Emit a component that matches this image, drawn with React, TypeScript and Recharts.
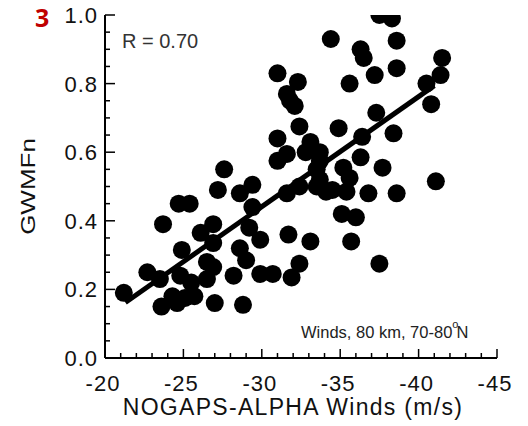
import React from "react";
import { ScatterChart, Scatter, XAxis, YAxis, ReferenceLine } from "recharts";

// NOGAPS-ALPHA winds (m/s)
const windsX: number[] = [
  -21.2, -22.7, -23.5, -23.6, -23.7, -24.7, -25.4, -24.9, -24.8, -24.3,
  -24.6, -25.1, -25.5, -25.7, -26.1, -26.9, -26.9, -26.5, -26.9, -26.5,
  -27.0, -28.2, -28.8, -28.6, -29.0, -29.2, -29.4, -29.9, -29.9, -27.6,
  -27.2, -28.6, -29.4, -34.4, -36.3, -36.5, -31.0, -32.3, -35.6, -31.6,
  -31.8, -32.1, -32.4, -34.9, -31.0, -33.1, -31.6, -31.0, -32.8, -33.7,
  -33.7, -36.4, -36.3, -35.2, -35.6, -37.5, -38.3, -38.6, -41.5, -38.6,
  -37.2, -40.5, -41.4, -40.8, -37.3, -38.4, -37.7, -41.1, -33.5, -33.5,
  -34.1, -34.5, -35.4, -36.8, -38.6, -32.4, -31.6, -35.1, -36.0, -31.7,
  -33.1, -35.7, -37.5, -32.4, -31.9, -30.7, -33.7,
];
// GWMFn
const gwmfY: number[] = [
  0.19, 0.25, 0.23, 0.15, 0.39, 0.45, 0.45, 0.315, 0.24, 0.18,
  0.16, 0.175, 0.22, 0.18, 0.365, 0.39, 0.335, 0.28, 0.265, 0.23,
  0.16, 0.24, 0.155, 0.32, 0.285, 0.38, 0.44, 0.345, 0.245, 0.55,
  0.49, 0.48, 0.505, 0.93, 0.9, 0.875, 0.83, 0.805, 0.8, 0.77,
  0.75, 0.735, 0.675, 0.67, 0.64, 0.63, 0.595, 0.575, 0.6, 0.6,
  0.575, 0.645, 0.585, 0.555, 0.525, 1.0, 0.99, 0.925, 0.875, 0.845,
  0.825, 0.8, 0.825, 0.74, 0.715, 0.655, 0.555, 0.515, 0.55, 0.5,
  0.485, 0.49, 0.485, 0.48, 0.48, 0.5, 0.48, 0.42, 0.41, 0.36,
  0.34, 0.34, 0.275, 0.275, 0.235, 0.245, 0.52,
];

// regression line end points
const fitX: number[] = [-21.3, -41.0];
const fitY: number[] = [0.162, 0.794];

const xTicks: number[] = [
  -20, -21, -22, -23, -24, -25, -26, -27, -28, -29, -30, -31, -32,
  -33, -34, -35, -36, -37, -38, -39, -40, -41, -42, -43, -44, -45,
];
const yTicks: number[] = [
  0, 0.05, 0.1, 0.15, 0.2, 0.25, 0.3, 0.35, 0.4, 0.45, 0.5,
  0.55, 0.6, 0.65, 0.7, 0.75, 0.8, 0.85, 0.9, 0.95, 1.0,
];

const points = windsX.map((x, i) => ({ x, y: gwmfY[i] }));

const FONT = "'Liberation Sans', Arial, Helvetica, sans-serif";
const MAJOR = 9;
const MINOR = 5;

const isMajorX = (v: number) => Math.round(v) % 5 === 0;
const isMajorY = (v: number) => Math.round(v * 100) % 20 === 0;

const BottomTick = (props: any) => {
  const { x, y, payload } = props;
  const v = payload.value as number;
  const major = isMajorX(v);
  return (
    <g>
      <line x1={x} y1={y} x2={x} y2={y - (major ? MAJOR : MINOR)} stroke="#000" strokeWidth={1.5} />
      {major && (
        <text x={x - 2} y={y + 33} textAnchor="middle" fontSize={22} fontFamily={FONT} fill="#111" letterSpacing={1}>
          {String(v)}
        </text>
      )}
    </g>
  );
};

const TopTick = (props: any) => {
  const { x, y, payload } = props;
  const v = payload.value as number;
  const major = isMajorX(v);
  return <line x1={x} y1={y} x2={x} y2={y + (major ? MAJOR : MINOR)} stroke="#000" strokeWidth={1.5} />;
};

const LeftTick = (props: any) => {
  const { x, y, payload } = props;
  const v = payload.value as number;
  const major = isMajorY(v);
  return (
    <g>
      <line x1={x} y1={y} x2={x + (major ? MAJOR + 1 : MINOR)} y2={y} stroke="#000" strokeWidth={1.5} />
      {major && (
        <text x={x - 7} y={y} dy="0.36em" textAnchor="end" fontSize={22} fontFamily={FONT} fill="#111" letterSpacing={1}>
          {v.toFixed(1)}
        </text>
      )}
    </g>
  );
};

const RightTick = (props: any) => {
  const { x, y, payload } = props;
  const v = payload.value as number;
  const major = isMajorY(v);
  return <line x1={x} y1={y} x2={x - (major ? MAJOR + 1 : MINOR)} y2={y} stroke="#000" strokeWidth={1.5} />;
};

const Dot = (props: any) => {
  const { cx, cy } = props;
  if (cx == null || cy == null) return null;
  return <circle cx={cx} cy={cy} r={9} fill="#000" />;
};

const YTitle = (props: any) => {
  const vb = props.viewBox || { x: 0, y: 0, width: 0, height: 0 };
  const cx = vb.x + 20;
  const cy = vb.y + vb.height / 2;
  return (
    <text
      transform={`translate(${cx},${cy}) rotate(-90) scale(1,0.75)`}
      textAnchor="middle"
      dy="0.36em"
      fontSize={26}
      fontFamily={FONT}
      fill="#111"
    >
      GWMFn
    </text>
  );
};

const XTitle = (props: any) => {
  const vb = props.viewBox || { x: 0, y: 0, width: 0, height: 0 };
  return (
    <text
      x={vb.x + vb.width / 2 - 8}
      y={vb.y + 57}
      textAnchor="middle"
      fontSize={23}
      fontFamily={FONT}
      fill="#111"
      letterSpacing={1.3}
    >
      NOGAPS-ALPHA Winds (m/s)
    </text>
  );
};

export default function App() {
  const W = 512;
  const H = 418;
  return (
    <div style={{ position: "relative", width: W, height: H }}>
      <ScatterChart
        width={W}
        height={H}
        margin={{ top: 7, right: 23, bottom: 8, left: 0 }}
        style={{ overflow: "visible" }}
      >
        <XAxis
          xAxisId="b"
          dataKey="x"
          type="number"
          orientation="bottom"
          domain={[-45, -20]}
          reversed
          allowDataOverflow
          ticks={xTicks}
          interval={0}
          height={60}
          tickSize={0}
          tickMargin={0}
          tickLine={false}
          axisLine={{ stroke: "#000", strokeWidth: 2 }}
          tick={BottomTick}
          label={<XTitle />}
        />
        <XAxis
          xAxisId="t"
          dataKey="x"
          type="number"
          orientation="top"
          domain={[-45, -20]}
          reversed
          allowDataOverflow
          ticks={xTicks}
          interval={0}
          height={0}
          tickSize={0}
          tickMargin={0}
          tickLine={false}
          axisLine={{ stroke: "#000", strokeWidth: 2 }}
          tick={TopTick}
        />
        <YAxis
          yAxisId="l"
          dataKey="y"
          type="number"
          orientation="left"
          domain={[0, 1]}
          allowDataOverflow
          ticks={yTicks}
          interval={0}
          width={97}
          tickSize={0}
          tickMargin={0}
          tickLine={false}
          axisLine={{ stroke: "#000", strokeWidth: 2 }}
          tick={LeftTick}
          label={<YTitle />}
        />
        <YAxis
          yAxisId="r"
          dataKey="y"
          type="number"
          orientation="right"
          domain={[0, 1]}
          allowDataOverflow
          ticks={yTicks}
          interval={0}
          width={0}
          tickSize={0}
          tickMargin={0}
          tickLine={false}
          axisLine={{ stroke: "#000", strokeWidth: 2 }}
          tick={RightTick}
        />
        <Scatter
          xAxisId="b"
          yAxisId="l"
          data={points}
          shape={Dot}
          isAnimationActive={false}
        />
        <ReferenceLine
          xAxisId="b"
          yAxisId="l"
          segment={[
            { x: fitX[0], y: fitY[0] },
            { x: fitX[1], y: fitY[1] },
          ]}
          stroke="#000"
          strokeWidth={5}
          ifOverflow="visible"
        />
      </ScatterChart>
      <svg
        width={W}
        height={H}
        style={{ position: "absolute", left: 0, top: 0, pointerEvents: "none", overflow: "visible" }}
      >
        <text x={27} y={19} fontSize={25} fontWeight="bold" fontFamily="'Open Sans', 'Noto Sans', sans-serif" fill="#C00000">
          3
        </text>
        <text x={114} y={40} fontSize={20} fontFamily={FONT} fill="#333">
          R = 0.70
        </text>
        <text x={293} y={330} fontSize={16.5} fontFamily={FONT} fill="#222">
          Winds, 80 km, 70-80
          <tspan dx={0} dy={-10} fontSize={11}>o</tspan>
          <tspan dx={-2} dy={10}>N</tspan>
        </text>
      </svg>
    </div>
  );
}
